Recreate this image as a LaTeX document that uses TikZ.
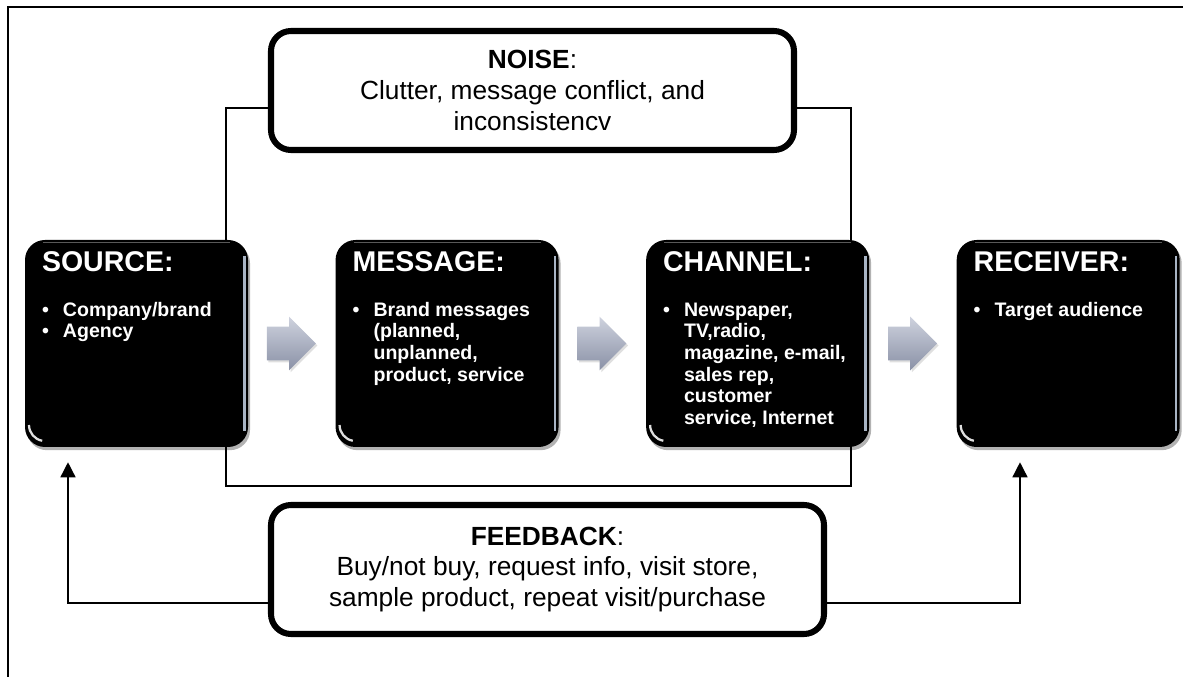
\documentclass[tikz,border=0pt]{standalone}
\usepackage{fontspec}
\setmainfont{Liberation Sans}
\usetikzlibrary{shapes,arrows.meta,positioning,calc,shadows}

\definecolor{arrowlight}{RGB}{206,210,222}
\definecolor{arrowdark}{RGB}{138,145,166}
\definecolor{glossy}{RGB}{168,180,196}

\newcommand{\bul}{\makebox[0.525cm][l]{\textbullet}}
\newcommand{\ind}{\hspace*{0.525cm}}
\newcommand{\boxtitle}[1]{{\fontsize{20.3}{24}\selectfont #1}}

\begin{document}
\begin{tikzpicture}[
  blkbox/.style={rectangle, rounded corners=0.5cm, fill=black, minimum width=5.575cm, minimum height=5.175cm, inner sep=0pt,
    drop shadow={shadow xshift=0.05cm, shadow yshift=-0.08cm, fill=black, opacity=0.3},
    path picture={
      \draw[glossy, line width=1.6pt] ([xshift=-0.09cm,yshift=-0.4cm]path picture bounding box.north east) -- ([xshift=-0.09cm,yshift=0.4cm]path picture bounding box.south east);
      \draw[black!65, line width=1pt] ([xshift=0.45cm,yshift=-0.07cm]path picture bounding box.north west) -- ([xshift=-0.45cm,yshift=-0.07cm]path picture bounding box.north east);
      \draw[white!75!gray, line width=1.6pt] ([xshift=0.1cm,yshift=0.55cm]path picture bounding box.south west) arc (180:260:0.4cm);
    }},
  blktext/.style={anchor=north west, inner sep=0pt, align=left, text=white, font=\bfseries\fontsize{13.9}{15.4}\selectfont},
  wbox/.style={rectangle, rounded corners=0.5cm, draw=black, line width=4.3pt, fill=white, align=center, font=\fontsize{18.7}{21.8}\selectfont},
  grayarrow/.style={single arrow, anchor=tip, minimum height=1.225cm, inner xsep=0pt, inner ysep=0.4125cm, single arrow head extend=0.25cm,
    top color=arrowlight, bottom color=arrowdark, drop shadow={shadow xshift=0.04cm, shadow yshift=-0.05cm, opacity=0.25}},
  fbline/.style={line width=1pt, -{Triangle[length=0.375cm, width=0.375cm]}, shorten >=0.375cm}
]
\useasboundingbox (0,0) rectangle (29.575,-16.925);

% frame
\draw[line width=2.1pt] (0.2,-16.925) -- (0.2,-0.175) -- (29.575,-0.175);

% noise
\node[wbox, minimum width=13.075cm, minimum height=2.975cm] (noise) at (13.3125,-2.2625)
{\textbf{NOISE}:\\Clutter, message conflict, and\\inconsistencv};

% feedback
\node[wbox, minimum width=13.825cm, minimum height=3.225cm] (feedback) at (13.6875,-14.2375)
{\textbf{FEEDBACK}:\\Buy/not buy, request info, visit store,\\sample product, repeat visit/purchase};

% noise loop
\coordinate (nl) at (5.65,-2.7);
\coordinate (nr) at (21.275,-2.7);
\coordinate (nbl) at (5.65,-12.15);
\coordinate (nbr) at (21.275,-12.15);
\draw[line width=1pt] (noise.west |- nl) -- (nl) -- (nbl) -- (nbr) -- (nr) -- (noise.east |- nr);

% source, message, channel, receiver
\node[blkbox] (source) at (3.4125,-8.5875) {};
\node[blkbox, right=2.175cm of source] (message) {};
\node[blkbox, right=2.175cm of message] (channel) {};
\node[blkbox, right=2.175cm of channel] (receiver) {};

\node[blktext] (sourcetxt) at ([xshift=0.425cm, yshift=-0.3cm]source.north west)
{\boxtitle{SOURCE:}\\[16pt]\bul Company/brand\\\bul Agency};
\node[blktext] (messagetxt) at ([xshift=0.425cm, yshift=-0.3cm]message.north west)
{\boxtitle{MESSAGE:}\\[16pt]\bul Brand messages\\\ind(planned,\\\ind unplanned,\\\ind product, service};
\node[blktext] (channeltxt) at ([xshift=0.425cm, yshift=-0.3cm]channel.north west)
{\boxtitle{CHANNEL:}\\[16pt]\bul Newspaper,\\\ind TV,radio,\\\ind magazine, e-mail,\\\ind sales rep,\\\ind customer\\\ind service, Internet};
\node[blktext] (receivertxt) at ([xshift=0.425cm, yshift=-0.3cm]receiver.north west)
{\boxtitle{RECEIVER:}\\[16pt]\bul Target audience};

% flow arrows
\coordinate (gap1) at ($(source.east)!0.5!(message.west)$);
\coordinate (gap2) at ($(message.east)!0.5!(channel.west)$);
\coordinate (gap3) at ($(channel.east)!0.5!(receiver.west)$);
\node[grayarrow] (arrow1) at ([xshift=0.6125cm]gap1) {};
\node[grayarrow] (arrow2) at ([xshift=0.6125cm]gap2) {};
\node[grayarrow] (arrow3) at ([xshift=0.6125cm]gap3) {};

% feedback arrows
\coordinate (fl) at (1.7,-15.075);
\coordinate (fr) at (25.5,-15.075);
\draw[fbline] (feedback.west |- fl) -- (fl) -- (fl |- source.south);
\draw[fbline] (feedback.east |- fr) -- (fr) -- (fr |- receiver.south);
\end{tikzpicture}
\end{document}
